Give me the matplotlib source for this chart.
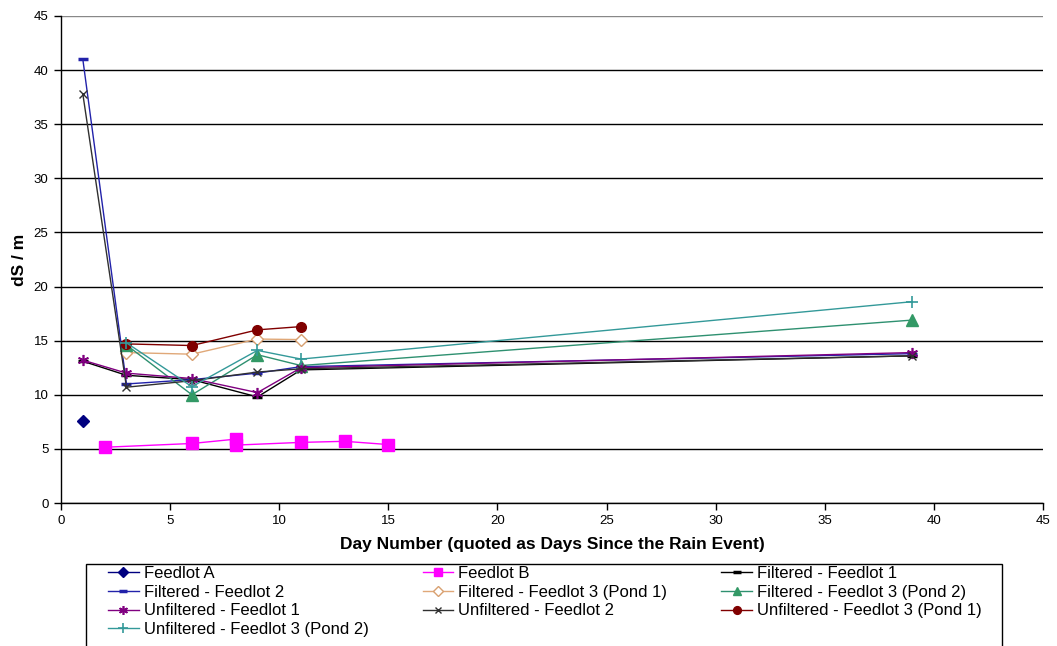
import matplotlib
matplotlib.use("Agg")
import matplotlib.pyplot as plt
from matplotlib.patches import Rectangle

plt.rcParams['font.family'] = ['Liberation Sans', 'DejaVu Sans']

# Conductivity readings (dS/m) by day since the rain event
feedlot_a_x = [1]
feedlot_a_y = [7.6]

feedlot_b_x = [2, 6, 8, 8, 11, 13, 15]
feedlot_b_y = [5.15, 5.5, 5.9, 5.35, 5.6, 5.7, 5.4]

filt_f1_x = [1, 3, 6, 9, 11, 39]
filt_f1_y = [13.1, 11.8, 11.4, 9.8, 12.3, 13.6]

filt_f2_x = [1, 3, 6, 9, 11, 39]
filt_f2_y = [41.0, 11.0, 11.4, 12.0, 12.6, 13.8]

filt_f3p1_x = [3, 6, 9, 11]
filt_f3p1_y = [13.9, 13.75, 15.15, 15.1]

filt_f3p2_x = [3, 6, 9, 11, 39]
filt_f3p2_y = [14.6, 10.0, 13.7, 12.7, 16.9]

unf_f1_x = [1, 3, 6, 9, 11, 39]
unf_f1_y = [13.2, 12.0, 11.5, 10.2, 12.5, 13.9]

unf_f2_x = [1, 3, 6, 9, 11, 39]
unf_f2_y = [37.8, 10.7, 11.3, 12.1, 12.4, 13.6]

unf_f3p1_x = [3, 6, 9, 11]
unf_f3p1_y = [14.7, 14.55, 16.0, 16.3]

unf_f3p2_x = [3, 6, 9, 11, 39]
unf_f3p2_y = [14.8, 10.75, 14.1, 13.3, 18.6]

x_ticks = list(range(0, 46, 5))
y_ticks = list(range(0, 46, 5))

W, H = 1057, 646
fig = plt.figure(figsize=(W / 100, H / 100), dpi=100)
ax = fig.add_axes([61 / W, 1 - 503 / H, (1043 - 61) / W, (503 - 16) / H])

asterisk = (6, 2, 0)

series = [
    dict(x=feedlot_a_x, y=feedlot_a_y, label='Feedlot A', color='#000080',
         marker='D', ms=6, mfc='#000080', mec='#000080'),
    dict(x=feedlot_b_x, y=feedlot_b_y, label='Feedlot B', color='#FF00FF',
         marker='s', ms=8, mfc='#FF00FF', mec='#FF00FF'),
    dict(x=filt_f1_x, y=filt_f1_y, label='Filtered - Feedlot 1', color='#000000',
         marker='_', ms=7, mfc='#000000', mec='#000000', mew=2.5),
    dict(x=filt_f2_x, y=filt_f2_y, label='Filtered - Feedlot 2', color='#2222AA',
         marker='_', ms=7, mfc='#2222AA', mec='#2222AA', mew=2.5),
    dict(x=filt_f3p1_x, y=filt_f3p1_y, label='Filtered - Feedlot 3 (Pond 1)', color='#E0A878',
         marker='D', ms=6, mfc='white', mec='#D8A070', mew=1),
    dict(x=filt_f3p2_x, y=filt_f3p2_y, label='Filtered - Feedlot 3 (Pond 2)', color='#2E9070',
         marker='^', ms=8, mfc='#339966', mec='#339966'),
    dict(x=unf_f1_x, y=unf_f1_y, label='Unfiltered - Feedlot 1', color='#800080',
         marker=asterisk, ms=8, mfc='#800080', mec='#800080', mew=1.2),
    dict(x=unf_f2_x, y=unf_f2_y, label='Unfiltered - Feedlot 2', color='#303030',
         marker='x', ms=6, mfc='#303030', mec='#303030', mew=1),
    dict(x=unf_f3p1_x, y=unf_f3p1_y, label='Unfiltered - Feedlot 3 (Pond 1)', color='#800000',
         marker='o', ms=7, mfc='#800000', mec='#800000'),
    dict(x=unf_f3p2_x, y=unf_f3p2_y, label='Unfiltered - Feedlot 3 (Pond 2)', color='#339999',
         marker='+', ms=9, mfc='#339999', mec='#339999', mew=1.2),
]

handles = []
for s in series:
    ln, = ax.plot(s['x'], s['y'], color=s['color'], lw=1.0, marker=s['marker'],
                  ms=s['ms'], mfc=s['mfc'], mec=s['mec'], mew=s.get('mew', 1),
                  label=s['label'], zorder=3, clip_on=False)
    handles.append(ln)

ax.set_xlim(0, 45)
ax.set_ylim(0, 45)
ax.set_xticks(x_ticks)
ax.set_yticks(y_ticks)
ax.tick_params(axis='both', direction='out', length=5, width=1, color='black',
               labelsize=9.5, pad=4)
ax.yaxis.grid(True, color='black', lw=1)
ax.set_axisbelow(True)
# the top gridline renders lighter
ax.get_ygridlines()[-1].set_color('#888888')
for side in ('top', 'right'):
    ax.spines[side].set_visible(False)
for side in ('left', 'bottom'):
    ax.spines[side].set_color('black')
    ax.spines[side].set_linewidth(1)

fig.text(552 / W, 1 - 545 / H, 'Day Number (quoted as Days Since the Rain Event)',
         ha='center', va='center', fontsize=12.5, fontweight='bold')
fig.text(19 / W, 1 - 260 / H, 'dS / m', ha='center', va='center', rotation=90,
         fontsize=12.5, fontweight='bold')

# legend box, open at the bottom edge of the figure
fig.patches.append(Rectangle((86 / W, -0.05), (1002 - 86) / W, 0.05 + (646 - 564) / H,
                             transform=fig.transFigure, fill=True, facecolor='white',
                             edgecolor='black', lw=1, zorder=1))

# legend filled column-wise, ordered so rows read left to right
order = [0, 3, 6, 9, 1, 4, 7, 2, 5, 8]
leg = fig.legend([handles[i] for i in order], [series[i]['label'] for i in order],
                 loc='upper left',
                 bbox_to_anchor=(108 / W, 1 - 566 / H, (982 - 108) / W, 0),
                 mode='expand', ncol=3, fontsize=12, frameon=False, markerscale=0.8,
                 handlelength=1.85, handletextpad=0.3,
                 labelspacing=0.22, borderpad=0, borderaxespad=0, columnspacing=1.0)
leg.set_zorder(2)

fig.savefig('out.png', dpi=100)
